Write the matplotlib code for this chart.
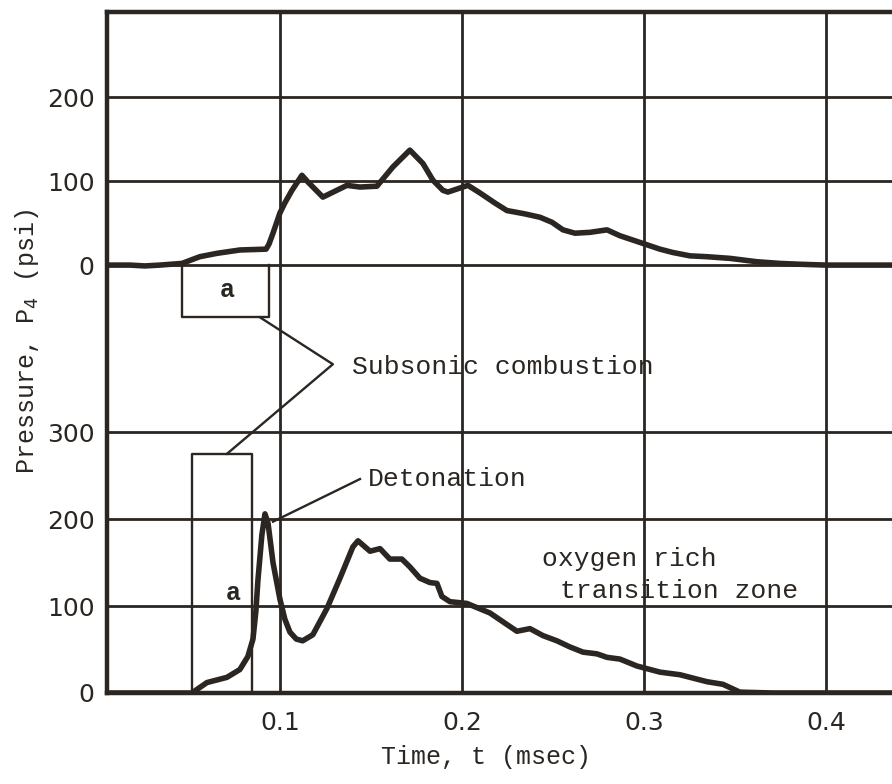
import matplotlib.pyplot as plt
import numpy as np

# upper trace (subsonic combustion), time in msec, pressure in psi
t_top = [0.005, 0.0176, 0.0258, 0.034, 0.0462, 0.056, 0.0654, 0.078, 0.0924, 0.094,
         0.0962, 0.100, 0.1027, 0.1066, 0.1121, 0.1154, 0.1236, 0.1368, 0.144, 0.1533,
         0.1621, 0.1714, 0.1786, 0.1841, 0.1896, 0.1923, 0.2033, 0.2099, 0.2181, 0.2247,
         0.2346, 0.2429, 0.2495, 0.2555, 0.2621, 0.2703, 0.2797, 0.2868, 0.2978, 0.3088,
         0.3159, 0.3253, 0.3346, 0.3473, 0.3621, 0.3747, 0.3857, 0.400, 0.4363]
p_top = [0, 0, -1, 0, 2, 10, 14, 18, 19, 25,
         38, 62, 74, 89, 107, 99, 81, 95, 93, 94,
         117, 137, 121, 101, 89, 87, 95, 86, 74, 65,
         61, 57, 51, 42, 38, 39, 42, 35, 27, 19,
         15, 11, 10, 8, 4, 2, 1, 0, 0]

# lower trace (detonation)
t_bot = [0.005, 0.030, 0.0516, 0.0599, 0.0709, 0.078, 0.0824, 0.0852, 0.0868, 0.0879,
         0.0901, 0.0918, 0.0935, 0.0962, 0.100, 0.1027, 0.1055, 0.109, 0.1125, 0.1181,
         0.1258, 0.133, 0.1401, 0.1429, 0.1495, 0.155, 0.1604, 0.167, 0.1714, 0.1769,
         0.1824, 0.1863, 0.189, 0.1934, 0.2027, 0.2154, 0.2302, 0.2374, 0.2445, 0.2522,
         0.2593, 0.2665, 0.2742, 0.2797, 0.2868, 0.2962, 0.3088, 0.3198, 0.3346, 0.3434,
         0.3527, 0.3709, 0.4363]
p_bot = [0, 0, 0, 12, 18, 27, 42, 62, 94, 129,
         182, 206, 195, 150, 108, 85, 70, 62, 60, 67,
         97, 132, 168, 175, 163, 166, 154, 154, 145, 132,
         127, 126, 111, 105, 103, 92, 71, 74, 66, 60,
         53, 47, 45, 41, 39, 31, 24, 21, 13, 10,
         1, 0, 0]

x_ticks = [0.1, 0.2, 0.3, 0.4]
x_labels = ["0.1", "0.2", "0.3", "0.4"]
bot_ticks = [0, 100, 200, 300]
top_ticks = [0, 100, 200]

TOP_OFFSET = 492   # where the upper trace's zero sits on the shared axis
TOP_SCALE = 0.965

ink = "#2b2621"
mono = "Liberation Mono"

fig = plt.figure(figsize=(8.92, 7.84), dpi=100)
ax = fig.add_axes([107/892, 91/784, 785/892, 681/784])

y_top = TOP_OFFSET + TOP_SCALE * np.array(p_top)
ax.plot(t_top, y_top, color=ink, lw=4, solid_joinstyle="round", solid_capstyle="round", zorder=3)
ax.plot(t_bot, p_bot, color=ink, lw=4, solid_joinstyle="round", solid_capstyle="round", zorder=3)

ax.set_xlim(0.005, 0.4363)
ax.set_ylim(0, 783)

yt = list(bot_ticks) + [TOP_OFFSET + TOP_SCALE * v for v in top_ticks]
yl = [str(v) for v in bot_ticks] + [str(v) for v in top_ticks]
ax.set_yticks(yt)
ax.set_yticklabels(yl)
ax.set_xticks(x_ticks)
ax.set_xticklabels(x_labels)
ax.tick_params(length=0, labelsize=18, colors=ink, pad=9)
ax.tick_params(axis="x", pad=13)
ax.grid(True, color=ink, lw=2)
ax.set_axisbelow(True)

for s in ["left", "bottom", "top"]:
    ax.spines[s].set_linewidth(3.2)
    ax.spines[s].set_color(ink)
ax.spines["right"].set_visible(False)

# boxes marked "a"
ax.plot([0.0462, 0.0462, 0.094, 0.094], [TOP_OFFSET, 432, 432, TOP_OFFSET], color=ink, lw=1.7)
ax.plot([0.0516, 0.0516, 0.0846, 0.0846], [0, 275, 275, 0], color=ink, lw=1.7)
ax.text(0.0709, 463, "a", family=mono, fontsize=18, fontweight="bold", color=ink, ha="center", va="center")
ax.text(0.0742, 115, "a", family=mono, fontsize=18, fontweight="bold", color=ink, ha="center", va="center")

# leader lines
ax.plot([0.089, 0.1291, 0.0709], [432, 378, 275], color=ink, lw=1.7)
ax.plot([0.144, 0.0962], [246, 197], color=ink, lw=1.7)

ax.text(0.1396, 375, "Subsonic combustion", family=mono, fontsize=19, color=ink, va="center")
ax.text(0.1484, 246, "Detonation", family=mono, fontsize=19, color=ink, va="center")
ax.text(0.244, 154, "oxygen rich", family=mono, fontsize=19, color=ink, va="center")
ax.text(0.2538, 117, "transition zone", family=mono, fontsize=19, color=ink, va="center")

ax.set_xlabel("Time, t (msec)", family=mono, fontsize=18, color=ink)
ax.xaxis.set_label_coords(0.483, -0.076)
fig.text(27/892, 1 - 342/784, "Pressure, P$_4$ (psi)", family=mono, fontsize=18, color=ink,
         rotation=90, ha="center", va="center")

fig.savefig("out.png", dpi=100)
